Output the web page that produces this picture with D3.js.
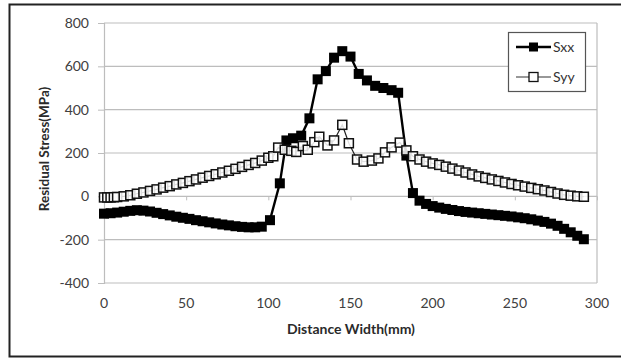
<!DOCTYPE html>
<html>
<head>
<meta charset="utf-8">
<script src="https://cdn.jsdelivr.net/npm/d3@7"></script>
<style>
  html, body { margin: 0; padding: 0; background: #fff; }
  svg { display: block; }
  text { font-family: Lato, "Open Sans", "DejaVu Sans", sans-serif; }
</style>
</head>
<body>
<svg id="chart" width="621" height="358"></svg>
<script>
// Residual stress profiles across the weld width
const sxxDist = [0, 4, 8, 12, 16, 20, 24, 28, 32, 36, 40, 44, 48, 52, 56, 60, 64, 68, 72, 76, 80, 84, 88, 92, 96, 101,
  107, 111, 115, 120, 125, 130, 135, 140, 145, 150, 155, 160, 165, 170, 175, 179, 184, 188,
  192, 196, 200, 204, 208, 212, 216, 220, 224, 228, 232, 236, 240, 244, 248, 252, 256, 260, 264, 268, 272, 276, 280, 284, 288, 292];
const sxxVal = [-80, -78, -75, -71, -67, -64, -66, -70, -76, -82, -88, -94, -99, -104, -110, -115, -120, -125, -130, -134, -138, -141, -143, -143, -140, -110,
  60, 258, 268, 280, 360, 540, 578, 640, 670, 645, 565, 535, 510, 500, 490, 478, 188, 15,
  -20, -35, -45, -52, -58, -63, -68, -72, -75, -78, -81, -84, -87, -90, -93, -97, -101, -106, -112, -118, -126, -136, -150, -166, -182, -198];

const syyDist = [0, 2, 4, 6, 8, 12, 16, 20, 24, 28, 32, 36, 40, 44, 48, 52, 56, 60, 64, 68, 72, 76, 80, 84, 88, 92, 96, 100,
  103, 106, 110, 114, 117, 121, 124, 128, 131, 136, 140, 145, 149, 154, 158, 163, 167, 171, 175, 180,
  184, 188, 192, 196, 200, 204, 208, 212, 216, 220, 224, 228, 232, 236, 240, 244, 248, 252, 256, 260, 264, 268, 272, 276, 280, 284, 288, 292];
const syyVal = [-5, -5, -5, -4, -3, 0, 5, 12, 18, 25, 32, 40, 47, 55, 62, 70, 78, 86, 94, 102, 110, 118, 127, 136, 145, 154, 165, 178,
  185, 225, 215, 210, 205, 232, 215, 250, 275, 235, 258, 330, 245, 170, 160, 165, 175, 203, 226, 248,
  212, 185, 170, 160, 152, 145, 137, 128, 119, 110, 101, 92, 85, 78, 71, 64, 57, 51, 45, 39, 33, 27, 20, 13, 7, 3, 0, -2];

const xTicks = [0, 50, 100, 150, 200, 250, 300];
const yTicks = [-400, -200, 0, 200, 400, 600, 800];
const seriesNames = ["Sxx", "Syy"];

const svg = d3.select("#chart");
const fmt = d => String(d); // plain hyphen for negative numbers

// outer chart frame
svg.append("rect")
  .attr("x", 9.5).attr("y", 4.5).attr("width", 640).attr("height", 352)
  .attr("fill", "#fff").attr("stroke", "#222").attr("stroke-width", 2);

const plot = { left: 104, right: 597, top: 23, bottom: 283 };

const x = d3.scaleLinear().domain([0, 300]).range([plot.left, plot.right]);
const y = d3.scaleLinear().domain([-400, 800]).range([plot.bottom, plot.top]);

// horizontal gridlines
svg.append("g")
  .selectAll("line")
  .data(yTicks)
  .join("line")
  .attr("x1", plot.left).attr("x2", plot.right)
  .attr("y1", d => y(d)).attr("y2", d => y(d))
  .attr("stroke", "#bdbdbd").attr("stroke-width", 1.2);

// plot area border (right side)
svg.append("line")
  .attr("x1", plot.right).attr("x2", plot.right)
  .attr("y1", plot.top).attr("y2", plot.bottom)
  .attr("stroke", "#bdbdbd").attr("stroke-width", 1.2);

// y axis with ticks and labels
const yAxis = svg.append("g")
  .attr("transform", `translate(${plot.left},0)`)
  .call(d3.axisLeft(y).tickValues(yTicks).tickSize(6).tickPadding(9).tickFormat(fmt));
yAxis.select(".domain").attr("stroke", "#bdbdbd").attr("stroke-width", 1.2);
yAxis.selectAll(".tick line").attr("stroke", "#bdbdbd");
yAxis.selectAll(".tick text")
  .attr("font-size", 14).attr("fill", "#404040")
  .style("font-family", "Lato, 'Open Sans', sans-serif");

// x axis crossing at zero, tick labels placed below the plot
const xAxis = svg.append("g")
  .attr("transform", `translate(0,${y(0)})`)
  .call(d3.axisBottom(x).tickValues(xTicks).tickSize(4).tickFormat(""));
xAxis.select(".domain").remove();
xAxis.selectAll(".tick line").attr("stroke", "#bdbdbd");

svg.append("g")
  .selectAll("text")
  .data(xTicks)
  .join("text")
  .attr("x", d => x(d)).attr("y", 308)
  .attr("text-anchor", "middle")
  .attr("font-size", 14).attr("fill", "#404040")
  .text(fmt);

// axis titles
svg.append("text")
  .attr("x", 351).attr("y", 334)
  .attr("text-anchor", "middle")
  .attr("font-size", 14).attr("font-weight", "bold").attr("fill", "#2a2a2a")
  .text("Distance Width(mm)");

svg.append("text")
  .attr("transform", `translate(49,${(plot.top + plot.bottom) / 2 - 4}) rotate(-90)`)
  .attr("text-anchor", "middle")
  .attr("font-size", 13.5).attr("font-weight", "bold").attr("fill", "#2a2a2a")
  .text("Residual Stress(MPa)");

const line = d3.line().x(d => x(d[0])).y(d => y(d[1]));
const sxx = d3.zip(sxxDist, sxxVal);
const syy = d3.zip(syyDist, syyVal);
const m = 10;

// Sxx: thick line with filled squares
svg.append("path").datum(sxx)
  .attr("d", line).attr("fill", "none")
  .attr("stroke", "#000").attr("stroke-width", 2.4);
svg.append("g").selectAll("rect").data(sxx).join("rect")
  .attr("x", d => x(d[0]) - m / 2).attr("y", d => y(d[1]) - m / 2)
  .attr("width", m).attr("height", m)
  .attr("fill", "#000");

// Syy: thin line with open squares
svg.append("path").datum(syy)
  .attr("d", line).attr("fill", "none")
  .attr("stroke", "#222").attr("stroke-width", 1.2);
svg.append("g").selectAll("rect").data(syy).join("rect")
  .attr("x", d => x(d[0]) - 4.5).attr("y", d => y(d[1]) - 4.5)
  .attr("width", 9).attr("height", 9)
  .attr("fill", "#fff").attr("fill-opacity", 0.85)
  .attr("stroke", "#111").attr("stroke-width", 1.5);

// legend
const legend = svg.append("g");
legend.append("rect")
  .attr("x", 508.5).attr("y", 32.5).attr("width", 77).attr("height", 59)
  .attr("fill", "#fff").attr("stroke", "#555").attr("stroke-width", 1.2);

const rows = legend.selectAll("g.row").data(seriesNames).join("g")
  .attr("class", "row")
  .attr("transform", (d, i) => `translate(0,${47 + i * 30})`);
rows.append("line")
  .attr("x1", 516).attr("x2", 551).attr("y1", 0).attr("y2", 0)
  .attr("stroke", (d, i) => i === 0 ? "#000" : "#333")
  .attr("stroke-width", (d, i) => i === 0 ? 2.5 : 1.2);
rows.append("rect")
  .attr("x", 529).attr("y", -4.5).attr("width", 9).attr("height", 9)
  .attr("fill", (d, i) => i === 0 ? "#000" : "#fff")
  .attr("stroke", "#111").attr("stroke-width", (d, i) => i === 0 ? 0 : 1.3);
rows.append("text")
  .attr("x", 553).attr("y", 0).attr("dy", "0.35em")
  .attr("font-size", 14).attr("fill", "#333")
  .text(d => d);
</script>
</body>
</html>
